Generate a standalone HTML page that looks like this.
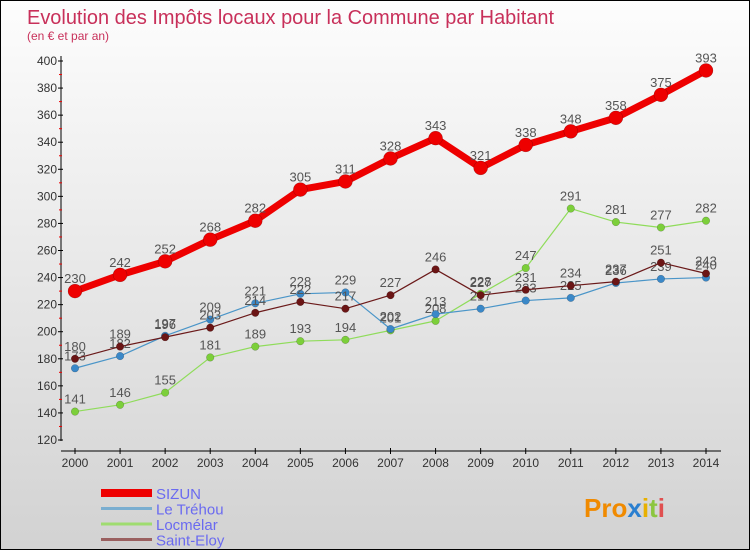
<!DOCTYPE html>
<html><head><meta charset="utf-8"><style>
html,body{margin:0;padding:0}
body{width:750px;height:550px;overflow:hidden;font-family:"Liberation Sans",sans-serif}
#wrap{position:relative;width:748px;height:548px;border:1px solid #000;background:linear-gradient(#fdfdfd,#d2d2d2)}
</style></head><body>
<div id="wrap">
<svg id="chart" width="748" height="548" style="position:absolute;left:0;top:0">
<text x="26" y="23" font-size="20" fill="#c8305a" textLength="527" lengthAdjust="spacingAndGlyphs">Evolution des Impôts locaux pour la Commune par Habitant</text>
<text x="26" y="39" font-size="12" fill="#c8305a">(en € et par an)</text>
<g id="axes"></g><g id="series"></g><g id="legend"></g>
<text x="583" y="516" font-size="26" font-weight="bold" fill="#f08a00">Pro<tspan fill="#2a7fd0">x</tspan><tspan fill="#e8b000">i</tspan><tspan fill="#8cc63f">t</tspan><tspan fill="#e05050">i</tspan></text>
</svg>
</div>
<script>
const years=[2000,2001,2002,2003,2004,2005,2006,2007,2008,2009,2010,2011,2012,2013,2014];
const sizun=[230,242,252,268,282,305,311,328,343,321,338,348,358,375,393];
const trehou=[173,182,197,209,221,228,229,202,213,217,223,225,236,239,240];
const locmelar=[141,146,155,181,189,193,194,201,208,228,247,291,281,277,282];
const eloy=[180,189,196,203,214,222,217,227,246,227,231,234,237,251,243];
const yTicks=[120,140,160,180,200,220,240,260,280,300,320,340,360,380,400];
const seriesNames=["SIZUN","Le Tréhou","Locmélar","Saint-Eloy"];
const NS="http://www.w3.org/2000/svg";
const X=i=>74+i*(705-74)/14;
const Y=v=>439-(v-120)*(379/280);
function mk(tag,at,parent){const e=document.createElementNS(NS,tag);for(const k in at)e.setAttribute(k,at[k]);parent.appendChild(e);return e;}
const axes=document.getElementById('axes');
let yl=mk('line',{x1:60,y1:55,x2:60,y2:440,stroke:'#000'},axes);


yTicks.forEach(t=>{
 const tk=mk('line',{x1:57,x2:62,y1:Y(t),y2:Y(t),stroke:'#000'},axes);
 
 
 if(t<400){const m=mk('line',{x1:58,x2:61,y1:Y(t+10),y2:Y(t+10),stroke:'#e00'},axes);
 
 }
 const tx=mk('text',{x:56,y:Y(t)+4,'font-size':12,fill:'#333','text-anchor':'end'},axes);tx.textContent=t;
 
 
});
let xl=mk('line',{x1:60,y1:450,x2:720,y2:450,stroke:'#000'},axes);


years.forEach((yr,i)=>{
 const tk=mk('line',{x1:X(i),x2:X(i),y1:447,y2:453,stroke:'#000'},axes);
 
 
 const tx=mk('text',{x:X(i),y:466,'font-size':12,fill:'#333','text-anchor':'middle'},axes);tx.textContent=yr;
 
 
});
const sg=document.getElementById('series');
function draw(data,color,dot,w,r,name){
 const g=mk('g',{},sg);
 
 
 const pts=data.map((v,i)=>X(i)+','+Y(v)).join(' ');
 const p=mk('polyline',{points:pts,fill:'none',stroke:color,'stroke-width':w,'stroke-linejoin':'round'},g);
 
 
 data.forEach((v,i)=>{
  const c=mk('circle',{cx:X(i),cy:Y(v),r:r,fill:dot,stroke:'rgba(0,0,0,0.3)','stroke-width':0.5},g);
  
  
  const t=mk('text',{x:X(i),y:Y(v)-8,'font-size':13,fill:'#555','text-anchor':'middle'},g);t.textContent=v;
  
  
 });
}
draw(locmelar,'#8fdc5a','#7ccf3a',1.2,3.8,'locmelar');
draw(trehou,'#4a95c8','#3a88c8',1.2,3.8,'le-trehou');
draw(eloy,'#6b1a1a','#6b1515',1.2,3.8,'saint-eloy');
draw(sizun,'#ee0000','#ee0000',7,7,'sizun');
const lg=document.getElementById('legend');
const lc=['#ee0000','#7aaed0','#9fdc70','#9a6060'],lw=[8,3,3,3];
seriesNames.forEach((n,i)=>{
 const y=492+i*15.5;
 const l=mk('line',{x1:100,x2:151,y1:y,y2:y,stroke:lc[i],'stroke-width':lw[i]},lg);
 
 
 const t=mk('text',{x:155,y:y+6,'font-size':15,fill:'#6a6af0'},lg);t.textContent=n;
 
 
});
</script>
</body></html>
